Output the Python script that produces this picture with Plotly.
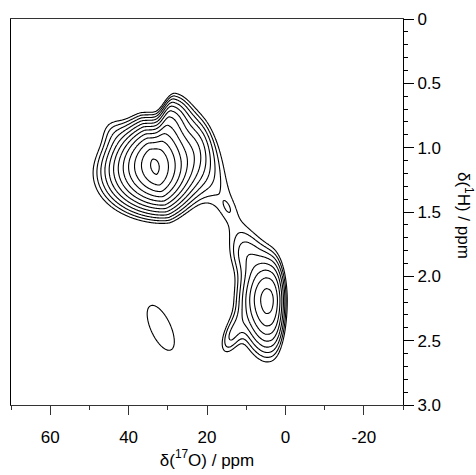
import numpy as np
import plotly.graph_objects as go

# Grid on which the 2D spectrum is evaluated (ppm)
O17_START, O17_STOP, O17_STEP = -6.0, 54.0, 0.2
H1_START, H1_STOP, H1_STEP = 0.35, 2.85, 0.005

# Width unit along each dimension (ppm); lineshape widths below are
# given in multiples of these so that tilted components can be rotated.
UNIT_O17 = 10.0
UNIT_H1 = 0.3

# Lineshape components of the 17O-1H correlation spectrum:
# centre (ppm), height, tilt of the long axis (deg), the widths on the
# positive / negative side of the long and short axes, and the lineshape
# exponents (2 = Gaussian).
PEAK_O17 = [33.4, 29.8, 22.5, 44.5, 14.7, 14.7, 4.8, 10.5, 14.0, 31.8]
PEAK_H1 = [1.15, 0.80, 0.95, 0.85, 1.47, 1.47, 2.19, 1.82, 2.47, 2.40]
PEAK_HEIGHT = [18.5, 3.8, 1.2, 0.6, 1.05, 0.25, 6.8, 0.9, 1.45, 1.25]
PEAK_TILT = [-15, -77, 0, 0, 66, 66, 0, 0, -70, 65.8]
W_LONG_POS = [0.46, 0.45, 0.26, 0.25, 1.40, 0.20, 0.31, 0.31, 0.41, 0.94]
W_LONG_NEG = [0.47, 0.64, 0.26, 0.25, 1.15, 0.20, 0.37, 0.31, 0.41, 0.94]
W_SHORT_POS = [0.62, 0.34, 0.51, 0.30, 0.38, 0.10, 0.78, 0.38, 0.18, 0.38]
W_SHORT_NEG = [0.60, 0.15, 0.51, 0.30, 0.38, 0.10, 0.65, 0.38, 0.18, 0.38]
P_LONG_POS = [1.45, 2, 2, 2, 2, 2, 2.6, 2, 2, 2]
P_LONG_NEG = [1.45, 2, 2, 2, 2, 2, 1.7, 2, 2, 2]
P_SHORT = [2, 2, 2, 2, 2, 2, 1.9, 2, 2, 2]

# Contour levels are geometrically spaced: BASE * RATIO**k
CONTOUR_BASE = 1.0
CONTOUR_RATIO = 1.3
N_LEVELS = 15

X_TICKS = [60, 40, 20, 0, -20]
X_TICK_TEXT = ["60", "40", "20", "0", "-20"]
Y_TICKS = [0, 0.5, 1.0, 1.5, 2.0, 2.5, 3.0]
Y_TICK_TEXT = ["0", "0.5", "1.0", "1.5", "2.0", "2.5", "3.0"]

o17 = np.arange(O17_START, O17_STOP + O17_STEP / 2, O17_STEP)
h1 = np.arange(H1_START, H1_STOP + H1_STEP / 2, H1_STEP)
X, Y = np.meshgrid(o17, h1)

spectrum = np.zeros_like(X)
for x0, y0, amp, tilt, wlp, wln, wsp, wsn, plp, pln, ps in zip(
        PEAK_O17, PEAK_H1, PEAK_HEIGHT, PEAK_TILT,
        W_LONG_POS, W_LONG_NEG, W_SHORT_POS, W_SHORT_NEG,
        P_LONG_POS, P_LONG_NEG, P_SHORT):
    # +u runs toward lower δ(17O), +v toward higher δ(1H)
    u = (x0 - X) / UNIT_O17
    v = (Y - y0) / UNIT_H1
    t = np.deg2rad(tilt)
    a = u * np.cos(t) + v * np.sin(t)
    b = -u * np.sin(t) + v * np.cos(t)
    pos = a >= 0
    ta = np.where(pos, np.abs(a / wlp) ** plp, np.abs(a / wln) ** pln)
    tb = np.abs(b / np.where(b >= 0, wsp, wsn)) ** ps
    spectrum += amp * np.exp(-0.5 * (ta + tb))

# contour index: integer values are the drawn levels
level = np.log(np.maximum(spectrum, 1e-6) / CONTOUR_BASE) / np.log(CONTOUR_RATIO)
level = np.round(np.maximum(level, -3.0), 4)

fig = go.Figure(go.Contour(
    x=o17, y=h1, z=level,
    contours=dict(start=0, end=N_LEVELS - 1, size=1, coloring="none"),
    line=dict(color="black", width=1.1, smoothing=1),
    showscale=False, hoverinfo="skip",
))

font = dict(family="Liberation Sans, Arial, sans-serif", size=17, color="black")

fig.update_layout(
    width=476, height=475,
    margin=dict(l=10, r=73, t=18, b=64),
    paper_bgcolor="white", plot_bgcolor="white",
    showlegend=False,
    font=font,
    xaxis=dict(
        range=[70, -30], tickvals=X_TICKS, ticktext=X_TICK_TEXT,
        ticks="outside", ticklen=9,
        tickwidth=1, tickcolor="#333", showline=True, linecolor="#333",
        linewidth=1, mirror=True, showgrid=False, zeroline=False,
        ticklabelstandoff=8,
        minor=dict(dtick=10, tick0=0, ticks="outside", ticklen=4,
                   tickcolor="#333", showgrid=False),
        title=dict(text="δ(<sup>17</sup>O) / ppm", font=font, standoff=6),
    ),
    yaxis=dict(
        range=[3.0, 0], side="right", tickvals=Y_TICKS, ticktext=Y_TICK_TEXT,
        ticks="outside", ticklen=10, tickwidth=1, tickcolor="black",
        showline=True, linecolor="black", linewidth=1, mirror=True,
        showgrid=False, zeroline=False,
        minor=dict(dtick=0.1, tick0=0, ticks="outside", ticklen=4,
                   tickcolor="black", showgrid=False),
    ),
    annotations=[dict(
        text="δ(<sup>1</sup>H) / ppm", textangle=90, showarrow=False,
        xref="paper", yref="paper", x=1.158, y=0.49,
        xanchor="center", yanchor="middle", font=font,
    )],
)

fig.write_html("out.html")
